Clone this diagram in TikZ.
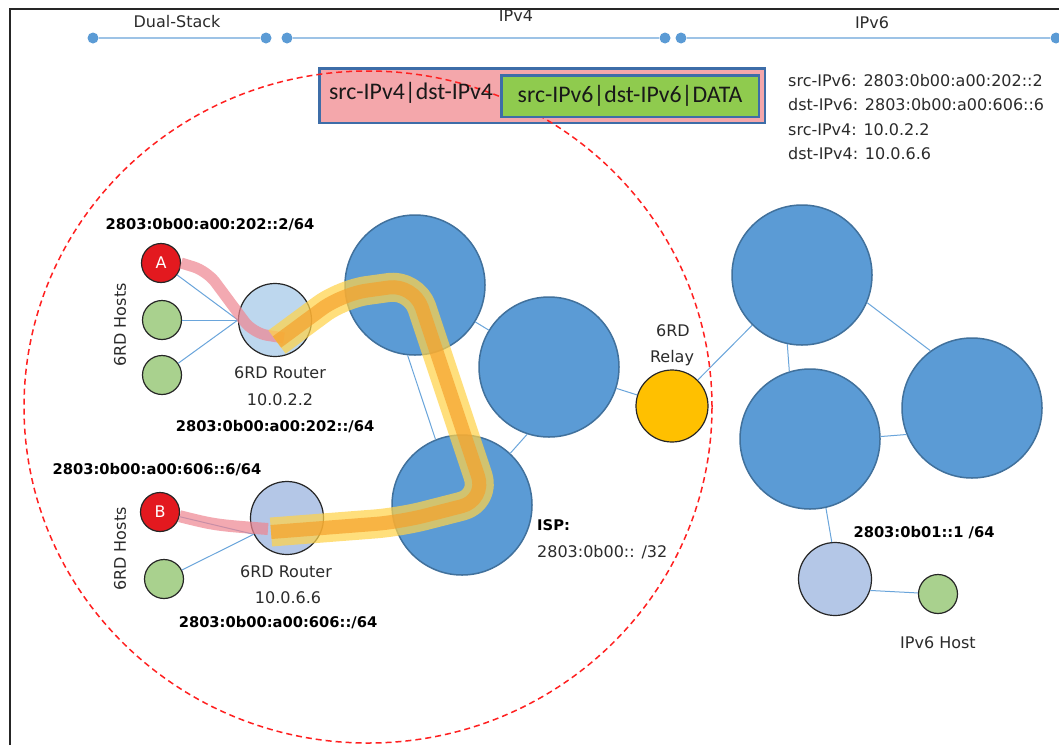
\documentclass[tikz,border=0pt]{standalone}
\usepackage{fontspec}
\setmainfont{DejaVu Sans}
\newfontfamily\boxfont{Carlito}
\definecolor{bluemid}{HTML}{5B9BD5}
\definecolor{bluedark}{HTML}{41719C}
\definecolor{linkblue}{HTML}{6AA5DB}
\definecolor{routerlight}{HTML}{BDD7EE}
\definecolor{routerblue}{HTML}{B4C7E7}
\definecolor{hostgreen}{HTML}{A9D18E}
\definecolor{hostred}{HTML}{E3191F}
\definecolor{relayyellow}{HTML}{FFC000}
\definecolor{pktpink}{HTML}{F4A7AB}
\definecolor{boxblue}{HTML}{3D6DA8}
\definecolor{pktgreen}{HTML}{8FCB4E}
\definecolor{barblue}{HTML}{9DC3E6}
\definecolor{dotblue}{HTML}{5B9BD5}
\definecolor{dashred}{HTML}{FF2020}
\definecolor{pathpink}{HTML}{EF8590}
\definecolor{pathyellow}{HTML}{FFD34A}
\definecolor{pathorange}{HTML}{F5A02A}
\definecolor{textgray}{HTML}{2B2B2B}
\begin{document}
\begin{tikzpicture}[x=1pt,y=-1pt,
  bigc/.style={circle,draw=bluedark,fill=bluemid,line width=1.5pt,minimum size=140pt,inner sep=0pt},
  routerc/.style={circle,draw=black!85,line width=1.2pt,minimum size=73pt,inner sep=0pt},
  hostc/.style={circle,draw=black!85,fill=hostgreen,line width=1.2pt,minimum size=39pt,inner sep=0pt},
  redc/.style={hostc,fill=hostred,text=white,font=\fontsize{16}{19}\selectfont},
  relayc/.style={circle,draw=black!85,fill=relayyellow,line width=1.2pt,minimum size=72pt,inner sep=0pt},
  link/.style={draw=linkblue,line width=1pt},
  lbl/.style={font=\fontsize{16}{19}\selectfont,text=textgray,inner sep=0pt},
  blbl/.style={font=\fontsize{14.7}{17}\selectfont\bfseries,text=black,inner sep=0pt},
  dotc/.style={circle,fill=dotblue,minimum size=11pt,inner sep=0pt},
  barline/.style={draw=barblue,line width=1.8pt},
  boxtxt/.style={font=\boxfont\fontsize{23.8}{28}\selectfont,text=black!90,inner sep=0pt},
  hlpink/.style={draw=pathpink,line width=11pt,opacity=0.7,line join=round},
  hlyellow/.style={draw=pathyellow,line width=29pt,opacity=0.72,line join=round},
  hlorange/.style={draw=pathorange,line width=14pt,opacity=0.68,line join=round},
  reddash/.style={draw=dashred,line width=1.5pt,dash pattern=on 6pt off 4pt},
]
\useasboundingbox (0,0) rectangle (1059,745);
\fill[white] (0,0) rectangle (1059,745);
% frame
\draw[line width=2.5pt,draw=black!85] (10,745) -- (10,9) -- (1059,9);
% top bar
\node[dotc] (d1) at (93,38) {};
\node[dotc] (d2) at (266,38) {};
\node[dotc] (d3) at (287,38) {};
\node[dotc] (d4) at (665,38) {};
\node[dotc] (d5) at (681,38) {};
\node[dotc] (d6) at (1056,38) {};
\draw[barline] (d1) -- (d2);
\draw[barline] (d3) -- (d4);
\draw[barline] (d5) -- (d6);
\node[lbl] (tds) at (177,22) {Dual-Stack};
\node[lbl] (tv4) at (516,16) {IPv4};
\node[lbl] (tv6) at (872,23) {IPv6};
% packet
\node[draw=boxblue,fill=pktpink,line width=2.5pt,minimum width=445.5pt,minimum height=54.5pt,inner sep=0pt] (pkt) at (542,95.5) {};
\draw[reddash] (368,407) ellipse [x radius=344pt, y radius=336pt];
\node[draw=boxblue,fill=pktgreen,line width=2.5pt,minimum width=257.5pt,minimum height=41.5pt,inner sep=0pt] (inner) at (630,96) {};
\node[boxtxt] (t4) at (411,93) {src-IPv4|dst-IPv4};
\node[boxtxt] (t6) at (630,96) {src-IPv6|dst-IPv6|DATA};
% addresses
\node[lbl,anchor=west] (a1) at (788,81) {src-IPv6: 2803:0b00:a00:202::2};
\node[lbl,anchor=west] (a2) at (788,105) {dst-IPv6: 2803:0b00:a00:606::6};
\node[lbl,anchor=west] (a3) at (788,130) {src-IPv4: 10.0.2.2};
\node[lbl,anchor=west] (a4) at (788,154) {dst-IPv4: 10.0.6.6};
% nodes
\node[redc] (A) at (161,263) {A};
\node[hostc] (h1) at (162,320) {};
\node[hostc] (h2) at (162,375) {};
\node[routerc,fill=routerlight] (r1) at (275,320) {};
\node[redc] (B) at (160,512) {B};
\node[hostc] (h3) at (164,579) {};
\node[routerc,fill=routerblue] (r2) at (287,518) {};
\node[bigc] (c1) at (415,285) {};
\node[bigc] (c2) at (549,367) {};
\node[bigc] (isp) at (462,505) {};
\node[relayc] (relay) at (672,406) {};
\node[bigc] (R1) at (802,275) {};
\node[bigc] (R2) at (972,408) {};
\node[bigc] (R3) at (810,439) {};
\node[routerc,fill=routerblue] (v6r) at (835,579) {};
\node[hostc] (v6h) at (938,594) {};
% links
\draw[link] (A) -- (r1.180);
\draw[link] (h1) -- (r1.180);
\draw[link] (h2) -- (r1.180);
\draw[link] (B) -- (r2.206);
\draw[link] (h3) -- (r2.206);
\draw[link] (c1) -- (c2);
\draw[link] (c1.264) -- (isp.112);
\draw[link] (c2.252) -- (isp.47);
\draw[link] (c2) -- (relay);
\draw[link] (relay) -- (R1);
\draw[link] (R1.258) -- (R3.107);
\draw[link] (R1.337) -- (R2.126);
\draw[link] (R3.2) -- (R2.202);
\draw[link] (R3.283) -- (v6r.95);
\draw[link] (v6r.342) -- (v6h);
% highlighted paths
\draw[hlpink,rounded corners=14pt] (A.east) -- (207,271) -- (253,333) -- (284,338);
\draw[hlpink,line width=12pt] (B.-12) .. controls (215,525) .. (268,529);
\draw[hlyellow,rounded corners=25pt] (277,342) -- (342,294) -- (414,284) -- (486,500) -- (400,522) -- (271,532);
\draw[hlorange,rounded corners=25pt] (277,342) -- (342,294) -- (414,284) -- (486,500) -- (400,522) -- (271,532);
% labels
\node[blbl] (la) at (210,225) {2803:0b00:a00:202::2/64};
\node[lbl,rotate=90] (hs1) at (120,325) {6RD Hosts};
\node[lbl] (r1l1) at (280,373) {6RD Router};
\node[lbl] (r1l2) at (280,400) {10.0.2.2};
\node[blbl] (r1l3) at (275,427) {2803:0b00:a00:202::/64};
\node[blbl] (lb) at (157,470) {2803:0b00:a00:606::6/64};
\node[lbl,rotate=90] (hs2) at (120,549) {6RD Hosts};
\node[lbl] (r2l1) at (286,572) {6RD Router};
\node[lbl] (r2l2) at (288,598) {10.0.6.6};
\node[blbl] (r2l3) at (278,623) {2803:0b00:a00:606::/64};
\node[blbl,anchor=west] (ispl1) at (537,525) {ISP:};
\node[lbl,anchor=west] (ispl2) at (537,552) {2803:0b00:: /32};
\node[lbl] (rl1) at (673,331) {6RD};
\node[lbl] (rl2) at (672,358) {Relay};
\node[blbl] (v6l) at (924,533) {2803:0b01::1 /64};
\node[lbl] (v6hl) at (938,643) {IPv6 Host};
\end{tikzpicture}
\end{document}
